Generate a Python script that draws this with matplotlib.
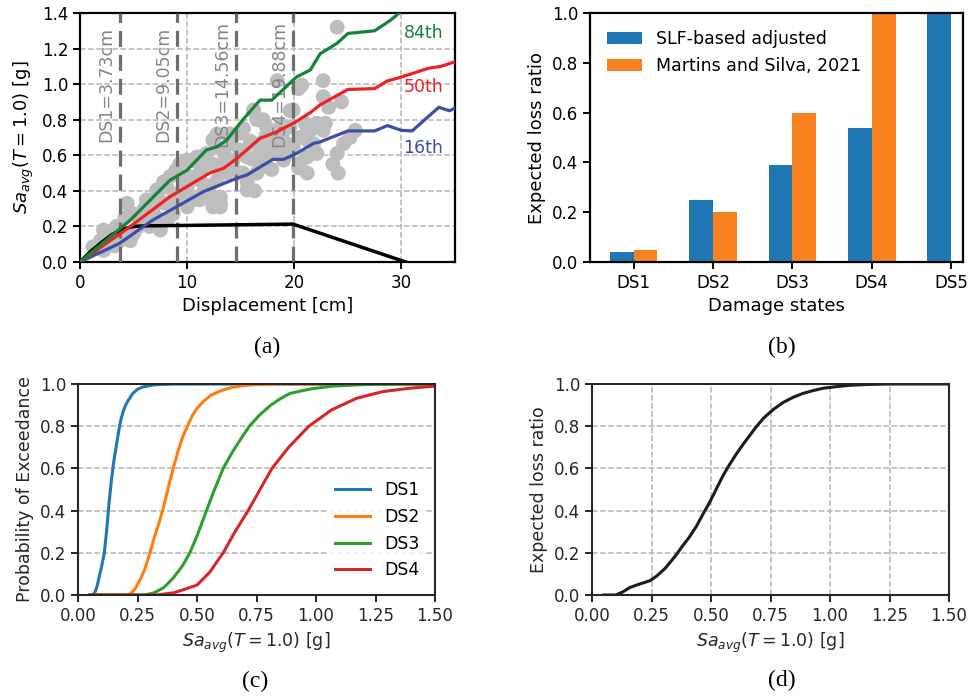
import numpy as np
import matplotlib
matplotlib.use("Agg")
import matplotlib.pyplot as plt

# --- (a) displacement vs Sa ---
ds_disp = [3.73, 9.05, 14.56, 19.88]
ds_names = ["DS1", "DS2", "DS3", "DS4"]

p16_x = [0, 3.7, 6.8, 9.3, 11.5, 14.6, 15.6, 18.0, 19.0, 20.2, 21.8, 22.4, 25.0, 27.5, 28.7, 30.0, 31.0, 32.5, 33.5, 34.5, 35.0]
p16_y = [0, 0.105, 0.236, 0.32, 0.395, 0.47, 0.49, 0.577, 0.577, 0.61, 0.667, 0.675, 0.737, 0.737, 0.767, 0.74, 0.737, 0.817, 0.87, 0.85, 0.866]
p50_x = [0, 4.7, 8.4, 12.1, 13.4, 14.6, 16.8, 18.4, 20.0, 21.5, 22.4, 23.5, 25.0, 27.5, 28.7, 30.0, 32.5, 33.7, 35.0]
p50_y = [0, 0.2, 0.367, 0.5, 0.527, 0.58, 0.695, 0.733, 0.783, 0.84, 0.883, 0.92, 0.97, 0.975, 1.018, 1.04, 1.089, 1.10, 1.126]
p84_x = [0, 4.7, 8.4, 10.0, 11.8, 12.8, 13.7, 15.2, 16.8, 17.9, 20.2, 21.5, 22.4, 24.0, 25.0, 27.5, 29.0, 29.8]
p84_y = [0, 0.236, 0.46, 0.517, 0.63, 0.648, 0.686, 0.80, 0.91, 0.91, 1.04, 1.08, 1.17, 1.23, 1.285, 1.30, 1.36, 1.40]

push_x = [0, 1, 2, 3, 4, 5, 6, 19.88, 30.4]
push_y = [0, 0.06, 0.11, 0.155, 0.185, 0.2, 0.203, 0.213, 0.0]

sc_x = [24.0, 22.7, 20.4, 23.2, 24.4, 25.7, 25.2, 24.1, 24.0, 22.1, 21.3, 22.4, 22.9, 21.0, 19.6,
        18.4, 19.9, 20.4, 19.1, 17.9, 16.3, 15.6, 16.8, 17.4, 17.3, 16.5, 16.2, 15.25, 14.0, 14.3,
        12.8, 12.4, 11.8, 11.2, 10.6, 10.3, 11.2, 12.0, 13.1, 12.4, 13.1, 10.0, 8.7, 8.9, 7.8,
        7.2, 6.2, 8.7, 7.5, 6.5, 5.6, 5.0, 4.4, 5.0, 3.4, 2.2, 1.9, 2.8, 3.7, 4.7,
        1.2, 2.2, 2.5, 4.0, 10.0, 9.5, 10.4, 11.2, 11.8, 12.8, 13.7, 14.9, 14.9, 15.9, 15.6,
        16.8, 18.0, 18.7, 18.4, 19.3, 17.4, 14.0, 12.8, 9.3, 8.1, 6.85, 5.6, 7.2, 21.8, 20.5, 24.6,
        22.7, 20.7, 19.9, 22.1, 20.8, 22.7, 21.2, 19.0, 17.7, 17.1, 16.2, 16.8, 15.9, 14.9, 14.0,
        12.4, 11.8, 10.9, 9.96, 9.0, 8.4, 10.0, 11.3, 12.8, 14.0, 15.2, 16.5, 17.4, 19.0, 20.5,
        21.2, 15.6, 12.1, 13.1, 10.6, 11.5, 7.16, 9.3, 17.7, 19.6, 3.0, 4.2, 5.8, 6.6, 7.9,
        3.2, 5.3, 6.0, 8.2, 9.8, 13.5, 16.0, 18.9, 21.5, 23.6]
sc_y = [1.32, 1.02, 0.975, 0.87, 0.90, 0.74, 0.70, 0.50, 0.61, 0.61, 0.68, 0.76, 0.78, 0.78, 0.85,
        1.02, 0.65, 0.53, 0.59, 0.52, 0.40, 0.45, 0.55, 0.63, 0.70, 0.80, 0.85, 0.75, 0.665, 0.57,
        0.645, 0.55, 0.55, 0.59, 0.57, 0.48, 0.46, 0.365, 0.365, 0.31, 0.31, 0.31, 0.35, 0.51, 0.45,
        0.38, 0.35, 0.27, 0.18, 0.20, 0.215, 0.16, 0.33, 0.27, 0.20, 0.18, 0.12, 0.12, 0.12, 0.12,
        0.085, 0.065, 0.16, 0.16, 0.42, 0.365, 0.35, 0.35, 0.43, 0.46, 0.50, 0.50, 0.63, 0.68, 0.59,
        0.665, 0.68, 0.76, 0.61, 0.665, 0.76, 0.72, 0.72, 0.55, 0.42, 0.31, 0.27, 0.25, 0.665, 0.70, 0.665,
        0.93, 0.995, 0.855, 0.78, 0.705, 0.74, 0.59, 0.65, 0.705, 0.80, 0.855, 0.61, 0.667, 0.723, 0.686,
        0.686, 0.61, 0.59, 0.573, 0.517, 0.48, 0.46, 0.517, 0.536, 0.555, 0.50, 0.50, 0.536, 0.573, 0.555,
        0.50, 0.405, 0.42, 0.33, 0.35, 0.39, 0.405, 0.39, 0.61, 0.76, 0.14, 0.25, 0.24, 0.29, 0.33,
        0.09, 0.19, 0.30, 0.24, 0.45, 0.60, 0.58, 0.72, 0.74, 0.55]

# --- (b) loss ratios ---
states = ["DS1", "DS2", "DS3", "DS4", "DS5"]
loss_slf = [0.04, 0.25, 0.39, 0.54, 1.0]
loss_ms = [0.05, 0.20, 0.60, 1.0, 0.0]

# --- (c) fragility curves ---
f1_x = [0.05, 0.06, 0.07, 0.08, 0.09, 0.10, 0.11, 0.12, 0.13, 0.14, 0.15, 0.16, 0.17, 0.18, 0.19,
        0.20, 0.21, 0.23, 0.25, 0.27, 0.29, 0.32, 0.35, 0.40, 1.5]
f1_y = [0.0, 0.0, 0.01, 0.04, 0.09, 0.14, 0.195, 0.30, 0.43, 0.54, 0.63, 0.70, 0.77, 0.83, 0.87,
        0.90, 0.92, 0.955, 0.975, 0.985, 0.99, 0.996, 0.998, 1.0, 1.0]
f2_x = [0.05, 0.20, 0.22, 0.24, 0.26, 0.28, 0.30, 0.32, 0.34, 0.36, 0.38, 0.40, 0.42, 0.44, 0.46,
        0.48, 0.50, 0.53, 0.56, 0.60, 0.65, 0.70, 0.75, 0.85, 1.5]
f2_y = [0.0, 0.0, 0.005, 0.03, 0.07, 0.12, 0.19, 0.27, 0.34, 0.42, 0.51, 0.60, 0.68, 0.75, 0.80,
        0.85, 0.885, 0.92, 0.948, 0.968, 0.985, 0.993, 0.997, 1.0, 1.0]
f3_x = [0.05, 0.28, 0.32, 0.36, 0.40, 0.44, 0.47, 0.50, 0.54, 0.57, 0.61, 0.65, 0.69, 0.72, 0.76,
        0.81, 0.85, 0.89, 0.94, 0.98, 1.07, 1.20, 1.35, 1.5]
f3_y = [0.0, 0.0, 0.01, 0.035, 0.08, 0.14, 0.20, 0.28, 0.40, 0.49, 0.60, 0.68, 0.75, 0.80, 0.85,
        0.90, 0.93, 0.955, 0.968, 0.977, 0.99, 0.997, 1.0, 1.0]
f4_x = [0.05, 0.33, 0.40, 0.44, 0.50, 0.555, 0.61, 0.66, 0.715, 0.765, 0.815, 0.885, 0.97, 1.065,
        1.17, 1.28, 1.395, 1.5]
f4_y = [0.0, 0.0, 0.01, 0.024, 0.047, 0.11, 0.20, 0.30, 0.40, 0.50, 0.60, 0.70, 0.80, 0.877,
        0.932, 0.964, 0.98, 0.99]

# --- (d) vulnerability curve ---
v_x = [0.05, 0.10, 0.13, 0.16, 0.195, 0.244, 0.272, 0.307, 0.33, 0.356, 0.38, 0.41, 0.44, 0.468,
       0.49, 0.51, 0.53, 0.552, 0.58, 0.608, 0.636, 0.664, 0.69, 0.72, 0.76, 0.804, 0.845, 0.888,
       0.93, 0.972, 1.03, 1.084, 1.16, 1.25, 1.5]
v_y = [0.0, 0.0, 0.015, 0.036, 0.05, 0.068, 0.09, 0.126, 0.157, 0.194, 0.232, 0.276, 0.328, 0.387,
       0.43, 0.474, 0.52, 0.569, 0.622, 0.671, 0.716, 0.758, 0.797, 0.837, 0.878, 0.913, 0.937, 0.956,
       0.969, 0.98, 0.988, 0.994, 0.998, 1.0, 1.0]

sa_label = r"$Sa_{avg}(T=1.0)$ [g]"
W, H = 973, 697
fig = plt.figure(figsize=(W / 100, H / 100), dpi=100)


def box(l, t, r, b):
    return [l / W, 1 - b / H, (r - l) / W, (b - t) / H]


grid_kw = dict(color="#b5b5b5", linestyle="--", linewidth=1.1)

# (a)
ax1 = fig.add_axes(box(80, 13, 455, 262))
ax1.grid(True, zorder=0, **grid_kw)
ax1.set_axisbelow(True)
ax1.scatter(sc_x, sc_y, s=115, color="#bdbdbd", edgecolors="none", zorder=2)
for d, n in zip(ds_disp, ds_names):
    ax1.text(d - 0.45, 1.0, f"{n}={d:.2f}cm", rotation=90, ha="right", va="center",
             color="#858585", fontsize=12.5, zorder=2.5)
for d in ds_disp:
    ax1.axvline(d, color="#6e6e6e", linestyle=(0, (5, 2.5)), linewidth=2.3, zorder=3)
ax1.plot(push_x, push_y, color="black", lw=2.5, zorder=4)
ax1.plot(p16_x, p16_y, color="#3b4fa8", lw=2.3, zorder=5)
ax1.plot(p50_x, p50_y, color="#ee2222", lw=2.3, zorder=5)
ax1.plot(p84_x, p84_y, color="#16823c", lw=2.3, zorder=5)
ax1.text(30.2, 1.285, "84th", color="#16823c", fontsize=12.5, va="center")
ax1.text(30.2, 0.986, "50th", color="#ee2222", fontsize=12.5, va="center")
ax1.text(30.2, 0.639, "16th", color="#3b4fa8", fontsize=12.5, va="center")
ax1.set_xlim(0, 35)
ax1.set_ylim(0, 1.4)
ax1.set_xticks([0, 10, 20, 30])
ax1.set_yticks(np.arange(0, 1.41, 0.2))
ax1.set_xlabel("Displacement [cm]", fontsize=13)
ax1.set_ylabel(sa_label, fontsize=13)

# (b)
ax2 = fig.add_axes(box(590, 13, 963, 262))
xb = np.arange(len(states))
ax2.bar(xb - 0.15, loss_slf, width=0.3, color="#1f77b4", label="SLF-based adjusted")
ax2.bar(xb + 0.15, loss_ms, width=0.3, color="#f7821f", label="Martins and Silva, 2021")
ax2.set_xticks(xb)
ax2.set_xticklabels(states)
ax2.set_xlim(-0.55, 4.15)
ax2.set_ylim(0, 1.0)
ax2.set_xlabel("Damage states", fontsize=13)
ax2.set_ylabel("Expected loss ratio", fontsize=13)
ax2.legend(loc="upper left", frameon=False, fontsize=12.5, borderaxespad=0.6)

for ax in (ax1, ax2):
    for s in ax.spines.values():
        s.set_linewidth(1.6)
    ax.tick_params(labelsize=12, width=1.4, length=5, direction="out")

dark = "#262626"

# (c)
ax3 = fig.add_axes(box(78, 384, 435, 595))
ax3.yaxis.grid(True, **grid_kw)
ax3.set_axisbelow(True)
ax3.plot(f1_x, f1_y, color="#1f77b4", lw=2.2, label="DS1")
ax3.plot(f2_x, f2_y, color="#ff7f0e", lw=2.2, label="DS2")
ax3.plot(f3_x, f3_y, color="#2ca02c", lw=2.2, label="DS3")
ax3.plot(f4_x, f4_y, color="#d62728", lw=2.2, label="DS4")
ax3.set_ylabel("Probability of Exceedance", fontsize=12.5, color=dark)
leg = ax3.legend(loc="lower right", fontsize=12.5, framealpha=0.8, edgecolor="none")

# (d)
ax4 = fig.add_axes(box(592, 384, 949, 595))
ax4.grid(True, **grid_kw)
ax4.set_axisbelow(True)
ax4.plot(v_x, v_y, color="#1c1c1c", lw=2.2)
ax4.set_ylabel("Expected loss ratio", fontsize=12.5, color=dark)

for ax in (ax3, ax4):
    ax.set_xlim(0, 1.5)
    ax.set_ylim(0, 1.0)
    ax.set_xticks(np.arange(0, 1.51, 0.25))
    ax.set_xticklabels([f"{v:.2f}" for v in np.arange(0, 1.51, 0.25)])
    ax.set_yticks(np.arange(0, 1.01, 0.2))
    ax.set_xlabel(sa_label, fontsize=12.5, color=dark)
    for s in ax.spines.values():
        s.set_linewidth(1.5)
        s.set_color(dark)
    ax.tick_params(labelsize=12, width=1.4, length=5, colors=dark)

# captions
cap = dict(fontsize=17, family="Liberation Serif", ha="center", va="center")
fig.text(267 / W, 1 - 347 / H, "(a)", **cap)
fig.text(782 / W, 1 - 347 / H, "(b)", **cap)
fig.text(255 / W, 1 - 681 / H, "(c)", **cap)
fig.text(782 / W, 1 - 680 / H, "(d)", **cap)

fig.savefig("out.png", dpi=100)
